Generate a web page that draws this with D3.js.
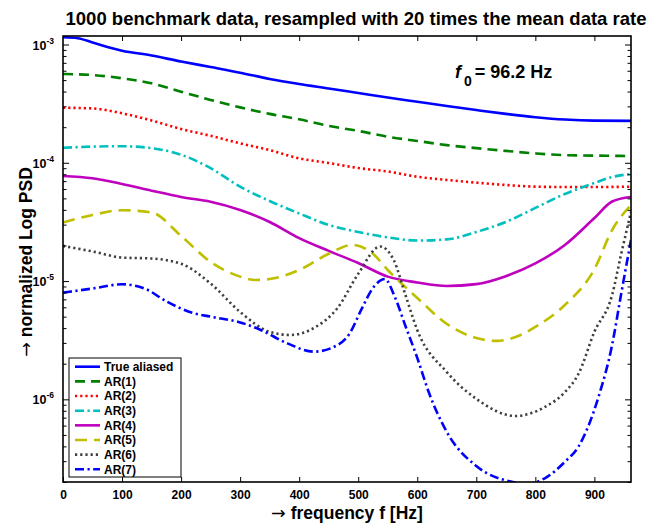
<!DOCTYPE html>
<html>
<head>
<meta charset="utf-8">
<script src="https://cdn.jsdelivr.net/npm/d3@7"></script>
<style>
  body { margin: 0; background: #fff; }
  text { font-family: "Liberation Sans", Arial, sans-serif; font-weight: bold; fill: #000; }
</style>
</head>
<body>
<svg id="chart" width="665" height="525"></svg>
<script>
// values (frequency in Hz, normalized PSD)
const fTrue = [0, 25, 50, 100, 150, 200, 250, 300, 350, 400, 450, 500, 550, 600, 650, 700, 750, 800, 850, 900, 962];
const psdTrue = [1.15e-3, 1.13e-3, 1.04e-3, 8.87e-4, 8.07e-4, 7.18e-4, 6.45e-4, 5.78e-4, 5.11e-4, 4.63e-4, 4.25e-4, 3.89e-4, 3.56e-4, 3.28e-4, 3.02e-4, 2.79e-4, 2.59e-4, 2.43e-4, 2.32e-4, 2.27e-4, 2.26e-4];

const fAR1 = [0, 50, 100, 150, 200, 250, 300, 350, 400, 450, 500, 550, 600, 650, 700, 750, 800, 850, 900, 962];
const psdAR1 = [5.63e-4, 5.52e-4, 5.18e-4, 4.70e-4, 3.99e-4, 3.40e-4, 2.94e-4, 2.59e-4, 2.33e-4, 2.05e-4, 1.86e-4, 1.66e-4, 1.53e-4, 1.41e-4, 1.33e-4, 1.26e-4, 1.20e-4, 1.16e-4, 1.15e-4, 1.14e-4];

const fAR2 = [0, 50, 100, 150, 200, 250, 300, 350, 400, 450, 500, 550, 600, 650, 700, 750, 800, 850, 900, 962];
const psdAR2 = [2.92e-4, 2.88e-4, 2.62e-4, 2.28e-4, 1.93e-4, 1.69e-4, 1.46e-4, 1.28e-4, 1.09e-4, 9.96e-5, 9.03e-5, 8.44e-5, 7.62e-5, 7.16e-5, 6.79e-5, 6.49e-5, 6.28e-5, 6.24e-5, 6.24e-5, 6.28e-5];

const fAR3 = [0, 50, 100, 150, 200, 250, 300, 350, 400, 450, 500, 550, 600, 650, 700, 750, 800, 850, 900, 930, 962];
const psdAR3 = [1.34e-4, 1.37e-4, 1.38e-4, 1.33e-4, 1.17e-4, 9.0e-5, 6.28e-5, 4.75e-5, 3.73e-5, 2.98e-5, 2.60e-5, 2.34e-5, 2.20e-5, 2.25e-5, 2.60e-5, 3.16e-5, 4.15e-5, 5.45e-5, 6.75e-5, 7.58e-5, 8.04e-5];

const fAR4 = [0, 50, 100, 150, 200, 250, 300, 350, 400, 450, 500, 550, 600, 650, 700, 750, 800, 850, 900, 930, 962];
const psdAR4 = [7.73e-5, 7.39e-5, 6.62e-5, 5.81e-5, 5.14e-5, 4.69e-5, 3.99e-5, 3.16e-5, 2.31e-5, 1.80e-5, 1.42e-5, 1.09e-5, 9.73e-6, 9.09e-6, 9.42e-6, 1.10e-5, 1.41e-5, 2.02e-5, 3.41e-5, 4.71e-5, 5.14e-5];

const fAR5 = [0, 50, 100, 150, 200, 250, 300, 325, 350, 400, 450, 490, 525, 550, 600, 650, 700, 735, 775, 800, 850, 900, 930, 962];
const psdAR5 = [3.12e-5, 3.62e-5, 3.97e-5, 3.80e-5, 2.41e-5, 1.45e-5, 1.09e-5, 1.02e-5, 1.04e-5, 1.24e-5, 1.70e-5, 2.02e-5, 1.70e-5, 1.24e-5, 7.20e-6, 4.34e-6, 3.30e-6, 3.12e-6, 3.50e-6, 4.09e-6, 6.28e-6, 1.26e-5, 2.70e-5, 4.40e-5];

const fAR6 = [0, 50, 100, 150, 200, 250, 300, 350, 385, 425, 465, 500, 537, 560, 580, 600, 650, 700, 766, 816, 850, 873, 900, 930, 945, 962];
const psdAR6 = [1.98e-5, 1.78e-5, 1.58e-5, 1.55e-5, 1.40e-5, 9.54e-6, 5.48e-6, 3.72e-6, 3.50e-6, 4.01e-6, 5.93e-6, 1.15e-5, 1.96e-5, 1.51e-5, 7.62e-6, 3.85e-6, 1.70e-6, 1.01e-6, 7.23e-7, 8.61e-7, 1.15e-6, 1.64e-6, 3.72e-6, 7.62e-6, 1.66e-5, 3.84e-5];

const fAR7 = [0, 50, 100, 140, 175, 220, 250, 300, 335, 380, 425, 465, 485, 505, 525, 545, 562, 580, 600, 620, 650, 700, 760, 785, 816, 850, 873, 907, 930, 945, 962];
const psdAR7 = [7.98e-6, 8.65e-6, 9.39e-6, 8.57e-6, 6.73e-6, 5.37e-6, 5.00e-6, 4.47e-6, 3.86e-6, 2.97e-6, 2.53e-6, 2.88e-6, 3.57e-6, 5.70e-6, 8.75e-6, 1.04e-5, 7.34e-6, 4.17e-6, 2.24e-6, 1.13e-6, 5.30e-7, 2.73e-7, 2.01e-7, 1.93e-7, 2.15e-7, 2.96e-7, 3.98e-7, 1.05e-6, 2.88e-6, 7.62e-6, 2.22e-5];

const seriesNames = ["True aliased", "AR(1)", "AR(2)", "AR(3)", "AR(4)", "AR(5)", "AR(6)", "AR(7)"];
const xTicks = [0, 100, 200, 300, 400, 500, 600, 700, 800, 900];
const yMajor = [1e-6, 1e-5, 1e-4, 1e-3];

// line looks
const colors = ["#0000ff", "#008000", "#ff0000", "#00bfbf", "#bf00bf", "#bfbf00", "#404040", "#0000ff"];
const dashes = [null, "10,6", "2.2,3", "9,3.5,2.2,3.5", null, "12,7", "2.2,3", "9,3.5,2.2,3.5"];

const freqs = [fTrue, fAR1, fAR2, fAR3, fAR4, fAR5, fAR6, fAR7];
const psds = [psdTrue, psdAR1, psdAR2, psdAR3, psdAR4, psdAR5, psdAR6, psdAR7];
const series = seriesNames.map((name, i) => ({
  name, color: colors[i], dash: dashes[i],
  values: freqs[i].map((f, j) => ({ f, v: psds[i][j] }))
}));

const mLeft = 63, mRight = 631, mTop = 36, mBottom = 482;
const svg = d3.select("#chart");

const x = d3.scaleLinear().domain([0, 962]).range([mLeft, mRight]);
const y = d3.scaleLog().domain([2e-7, 1.18e-3]).range([mBottom, mTop]);

// minor log ticks
const yMinor = [];
for (let e = -7; e <= -3; e++) {
  for (let k = 2; k <= 9; k++) {
    const v = k * Math.pow(10, e);
    if (v >= 2e-7 && v <= 1.18e-3) yMinor.push(v);
  }
}

svg.append("defs").append("clipPath").attr("id", "plot-clip")
  .append("rect").attr("x", mLeft).attr("y", mTop)
  .attr("width", mRight - mLeft).attr("height", mBottom - mTop);

// curves
const line = d3.line()
  .x(d => x(d.f))
  .y(d => y(d.v))
  .curve(d3.curveMonotoneX);

const plot = svg.append("g").attr("clip-path", "url(#plot-clip)");
plot.selectAll("path")
  .data(series)
  .join("path")
  .attr("d", d => line(d.values))
  .attr("fill", "none")
  .attr("stroke", d => d.color)
  .attr("stroke-width", 2.6)
  .attr("stroke-dasharray", d => d.dash);

// axes (ticks point inward)
svg.append("g")
  .attr("transform", `translate(0,${mBottom})`)
  .call(d3.axisBottom(x).tickValues(xTicks).tickSizeInner(-5).tickSizeOuter(0).tickPadding(8))
  .call(g => g.selectAll("text").style("font-size", "12px"));

svg.append("g")
  .attr("transform", `translate(0,${mTop})`)
  .call(d3.axisTop(x).tickValues(xTicks.slice(1)).tickSizeInner(-5).tickSizeOuter(0).tickFormat(""));

const yAxes = [
  { axis: d3.axisLeft, pos: mLeft },
  { axis: d3.axisRight, pos: mRight }
];
yAxes.forEach(a => {
  svg.append("g")
    .attr("transform", `translate(${a.pos},0)`)
    .call(a.axis(y).tickValues(yMinor).tickSizeInner(-3.5).tickSizeOuter(0).tickFormat(""));
  svg.append("g")
    .attr("transform", `translate(${a.pos},0)`)
    .call(a.axis(y).tickValues(yMajor).tickSizeInner(-6).tickSizeOuter(0).tickFormat(""));
});
svg.selectAll(".domain").remove();
svg.selectAll(".tick line").attr("stroke", "#000").attr("stroke-width", 1);

// frame
svg.append("rect")
  .attr("x", mLeft).attr("y", mTop)
  .attr("width", mRight - mLeft).attr("height", mBottom - mTop)
  .attr("fill", "none").attr("stroke", "#000").attr("stroke-width", 1.6);

// y tick labels 10^n
const yLab = svg.append("g").selectAll("text")
  .data(yMajor)
  .join("text")
  .attr("x", 54)
  .attr("y", d => y(d) + 5)
  .attr("text-anchor", "end")
  .style("font-size", "12.5px");
yLab.append("tspan").text("10");
yLab.append("tspan")
  .attr("dy", -6)
  .style("font-size", "8.5px")
  .text(d => String(Math.round(Math.log10(d))));

// title
svg.append("text")
  .attr("x", 356).attr("y", 25)
  .attr("text-anchor", "middle")
  .style("font-size", "18.5px")
  .text("1000 benchmark data, resampled with 20 times the mean data rate");

// axis labels (arrow from DejaVu, which has a full-size glyph)
const xLabel = svg.append("text")
  .attr("x", 347).attr("y", 519)
  .attr("text-anchor", "middle")
  .style("font-size", "17.5px");
xLabel.append("tspan").style("font-family", "DejaVu Sans").style("font-weight", "normal").text("\u2192");
xLabel.append("tspan").text("  frequency f [Hz]");

const yLabel = svg.append("text")
  .attr("transform", "translate(32,262) rotate(-90)")
  .attr("text-anchor", "middle")
  .style("font-size", "17.5px");
yLabel.append("tspan").style("font-family", "DejaVu Sans").style("font-weight", "normal").text("\u2192");
yLabel.append("tspan").text("  normalized Log PSD");

// f0 annotation
const f0 = svg.append("text").attr("x", 455).attr("y", 78).style("font-size", "18px");
f0.append("tspan").style("font-style", "italic").text("f");
f0.append("tspan").attr("dx", 3).attr("dy", 8).style("font-size", "14px").text("0");
f0.append("tspan").attr("dx", 3).attr("dy", -8).text("= 96.2 Hz");

// legend
const legend = svg.append("g");
legend.append("rect")
  .attr("x", 69).attr("y", 358).attr("width", 112).attr("height", 119)
  .attr("fill", "#fff").attr("stroke", "#000").attr("stroke-width", 1);
const item = legend.selectAll("g.item")
  .data(series)
  .join("g")
  .attr("class", "item")
  .attr("transform", (d, i) => `translate(0,${366.7 + i * 14.66})`);
item.append("line")
  .attr("x1", 75).attr("x2", 100)
  .attr("stroke", d => d.color)
  .attr("stroke-width", 2.6)
  .attr("stroke-dasharray", d => d.dash);
item.append("text")
  .attr("x", 104).attr("dy", "0.36em")
  .style("font-size", "12px")
  .text(d => d.name);
</script>
</body>
</html>
